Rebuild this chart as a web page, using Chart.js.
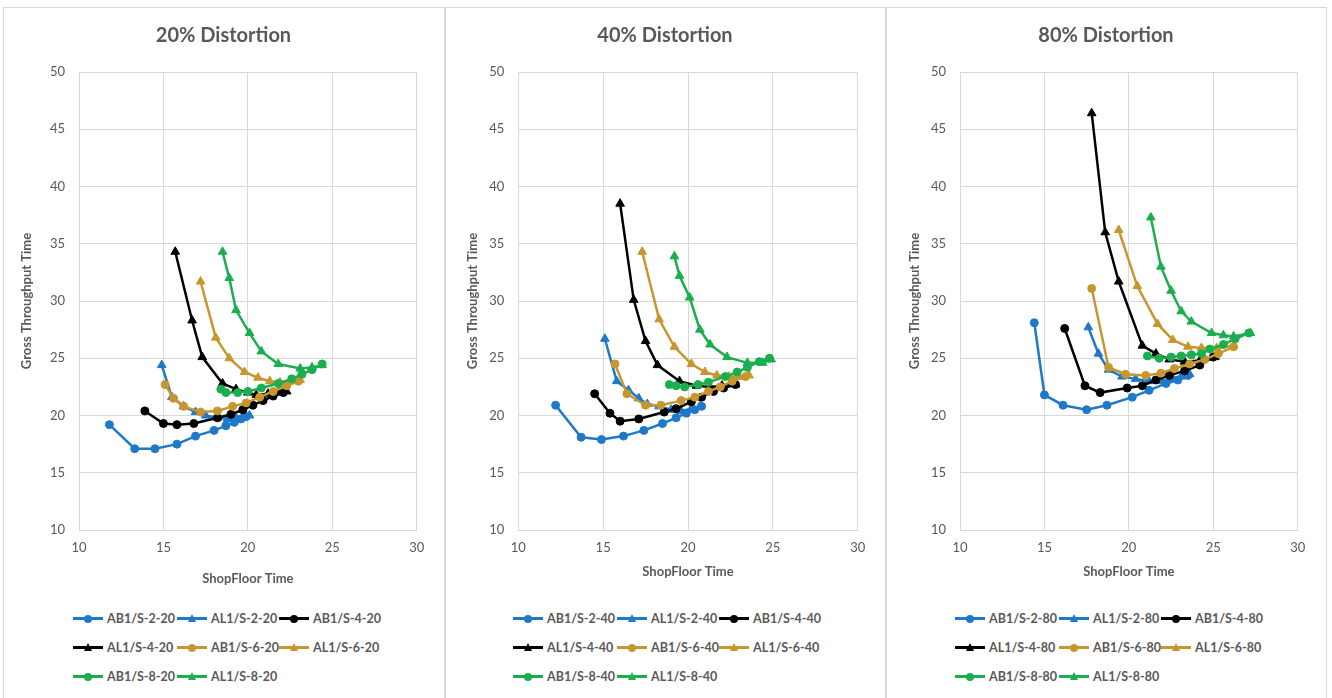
<!DOCTYPE html>
<html lang="en">
<head>
<meta charset="UTF-8" />
<title>Distortion charts</title>
<script src="https://cdn.jsdelivr.net/npm/chart.js"></script>
<style>
  body { margin: 0; background: #fff; width: 1332px; height: 698px; overflow: hidden; position: relative; font-family: Lato, sans-serif; }
  .panel { position: absolute; top: 7px; height: 720px; border: 1px solid #d9d9d9; box-sizing: border-box; }
  canvas { position: absolute; top: 0; }
  .legend { position: absolute; top: 604px; display: grid; grid-template-columns: 104px 102px 112px; }
  .item { display: flex; align-items: center; height: 29px; font-size: 12.5px; font-weight: bold; color: #595959; white-space: nowrap; }
  .mk { position: relative; flex: 0 0 30px; width: 30px; height: 3px; margin-right: 4px; }
  .mk i { position: absolute; left: 11px; }
  .mk i.circle { width: 8px; height: 8px; border-radius: 50%; top: -2.5px; }
  .mk i.triangle { width: 0; height: 0; top: -3.5px; left: 10.5px; border-left: 4.5px solid transparent; border-right: 4.5px solid transparent; border-bottom: 8px solid; background: none !important; }
</style>
</head>
<body>
<div class="panel" style="left:3px;width:442px"></div>
<div class="panel" style="left:445px;width:441px"></div>
<div class="panel" style="left:886px;width:441px"></div>
<canvas id="c20" width="441" height="600" style="left:3px;width:441px;height:600px"></canvas>
<canvas id="c40" width="440" height="600" style="left:445px;width:440px;height:600px"></canvas>
<canvas id="c80" width="440" height="600" style="left:886px;width:440px;height:600px"></canvas>
<div class="legend" id="l20" style="left:73px"></div>
<div class="legend" id="l40" style="left:513px"></div>
<div class="legend" id="l80" style="left:955px"></div>

<script>
  const seriesNames = ['AB1/S-2', 'AL1/S-2', 'AB1/S-4', 'AL1/S-4', 'AB1/S-6', 'AL1/S-6', 'AB1/S-8', 'AL1/S-8'];
  const seriesColors = ['#1f78c8', '#1f78c8', '#000000', '#000000', '#c8962e', '#c8962e', '#1aae4f', '#1aae4f'];
  const seriesMarkers = ['circle', 'triangle', 'circle', 'triangle', 'circle', 'triangle', 'circle', 'triangle'];
  const xMin = 10, xMax = 30, xStep = 5;
  const yMin = 10, yMax = 50, yStep = 5;

  // 20% distortion  [ShopFloor Time, Gross Throughput Time]
  const ab1s2_20 = [[11.8,19.2],[13.3,17.1],[14.5,17.1],[15.8,17.5],[16.9,18.2],[18.0,18.7],[18.7,19.1],[19.2,19.4],[19.6,19.7],[19.9,19.9]];
  const al1s2_20 = [[14.9,24.4],[15.5,21.6],[16.2,20.8],[16.9,20.3],[17.5,20.0],[18.2,19.8],[18.8,19.7],[19.3,19.8],[19.7,19.9],[20.1,20.0]];
  const ab1s4_20 = [[13.9,20.4],[15.0,19.3],[15.8,19.2],[16.8,19.3],[18.2,19.8],[19.0,20.1],[19.7,20.5],[20.3,20.9],[20.9,21.3],[21.5,21.7],[22.1,22.0]];
  const al1s4_20 = [[15.7,34.3],[16.7,28.3],[17.3,25.1],[18.5,22.8],[19.3,22.3],[20.0,22.0],[20.5,21.8],[21.2,21.9],[21.8,22.0],[22.3,22.1]];
  const ab1s6_20 = [[15.1,22.7],[15.6,21.5],[16.2,20.8],[17.2,20.3],[18.2,20.4],[19.1,20.8],[19.9,21.1],[20.7,21.6],[21.5,22.1],[22.3,22.6],[23.0,23.0]];
  const al1s6_20 = [[17.2,31.7],[18.1,26.8],[18.9,25.0],[19.8,23.8],[20.6,23.3],[21.3,23.0],[21.9,22.9],[22.6,23.0],[23.1,23.1]];
  const ab1s8_20 = [[18.4,22.3],[18.7,22.0],[19.4,22.0],[20.0,22.1],[20.8,22.4],[21.8,22.8],[22.6,23.2],[23.2,23.6],[23.8,24.0],[24.4,24.5]];
  const al1s8_20 = [[18.5,34.3],[18.9,32.0],[19.3,29.2],[20.1,27.2],[20.8,25.6],[21.8,24.5],[23.1,24.1],[23.8,24.2],[24.4,24.4]];

  // 40% distortion
  const ab1s2_40 = [[12.2,20.9],[13.7,18.1],[14.9,17.9],[16.2,18.2],[17.4,18.7],[18.5,19.3],[19.3,19.8],[19.9,20.2],[20.4,20.5],[20.8,20.8]];
  const al1s2_40 = [[15.1,26.7],[15.8,23.0],[16.5,22.2],[17.1,21.5],[17.6,21.0],[18.3,20.8],[19.0,20.5],[19.6,20.4],[20.2,20.6],[20.7,20.8]];
  const ab1s4_40 = [[14.5,21.9],[15.4,20.2],[16.0,19.5],[17.1,19.7],[18.6,20.3],[19.3,20.6],[20.2,21.2],[20.8,21.6],[21.5,22.1],[22.1,22.4],[22.8,22.7]];
  const al1s4_40 = [[16.0,38.5],[16.8,30.1],[17.5,26.5],[18.2,24.4],[19.5,23.0],[20.5,22.6],[21.3,22.5],[22.0,22.6],[22.8,22.7]];
  const ab1s6_40 = [[15.7,24.5],[16.4,21.9],[17.5,20.9],[18.4,20.9],[19.6,21.3],[20.4,21.6],[21.2,22.1],[21.9,22.5],[22.6,23.0],[23.4,23.4]];
  const al1s6_40 = [[17.3,34.3],[18.3,28.4],[19.2,26.0],[20.2,24.5],[21.0,23.8],[21.7,23.5],[22.4,23.4],[23.0,23.4],[23.6,23.5]];
  const ab1s8_40 = [[18.9,22.7],[19.3,22.6],[19.8,22.5],[20.6,22.7],[21.2,22.9],[22.2,23.4],[22.9,23.8],[23.5,24.2],[24.2,24.7],[24.8,25.0]];
  const al1s8_40 = [[19.2,33.9],[19.5,32.2],[20.1,30.3],[20.7,27.5],[21.3,26.2],[22.3,25.1],[23.5,24.6],[24.4,24.6],[24.9,24.9]];

  // 80% distortion
  const ab1s2_80 = [[14.4,28.1],[15.0,21.8],[16.1,20.9],[17.5,20.5],[18.7,20.9],[20.2,21.6],[21.2,22.2],[22.2,22.8],[22.9,23.1],[23.5,23.5]];
  const al1s2_80 = [[17.6,27.7],[18.2,25.4],[18.8,24.0],[19.6,23.4],[20.4,23.2],[21.2,23.0],[22.0,23.0],[22.6,23.2],[23.1,23.4],[23.6,23.6]];
  const ab1s4_80 = [[16.2,27.6],[17.4,22.6],[18.3,22.0],[19.9,22.4],[20.8,22.6],[21.6,23.1],[22.4,23.5],[23.3,23.9],[24.2,24.4],[25.0,25.1]];
  const al1s4_80 = [[17.8,46.4],[18.6,36.0],[19.4,31.7],[20.8,26.1],[21.6,25.4],[22.4,24.9],[23.3,24.7],[24.2,24.8],[25.1,25.1]];
  const ab1s6_80 = [[17.8,31.1],[18.8,24.2],[19.8,23.6],[21.0,23.5],[21.9,23.7],[22.7,24.1],[23.6,24.5],[24.5,24.9],[25.3,25.4],[26.2,26.0]];
  const al1s6_80 = [[19.4,36.2],[20.5,31.3],[21.7,28.0],[22.6,26.6],[23.5,26.0],[24.3,25.9],[25.2,25.9],[26.2,26.1]];
  const ab1s8_80 = [[21.1,25.2],[21.8,25.0],[22.5,25.1],[23.1,25.2],[23.7,25.3],[24.3,25.4],[24.8,25.8],[25.6,26.2],[26.3,26.7],[27.1,27.2]];
  const al1s8_80 = [[21.3,37.3],[21.9,33.0],[22.5,30.9],[23.1,29.1],[23.7,28.2],[24.9,27.2],[25.6,27.0],[26.2,26.9],[27.2,27.2]];

  const grey = '#595959';
  const gridGrey = '#d9d9d9';

  function makeChart(id, suffix, series, geo) {
    new Chart(document.getElementById(id), {
      type: 'scatter',
      data: {
        datasets: series.map((pts, i) => ({
          label: seriesNames[i] + '-' + suffix,
          data: pts.map(p => ({ x: p[0], y: p[1] })),
          showLine: true,
          borderColor: seriesColors[i],
          backgroundColor: seriesColors[i],
          borderWidth: 2.5,
          pointStyle: seriesMarkers[i],
          pointRadius: seriesMarkers[i] === 'triangle' ? 5 : 4,
          pointBorderWidth: 1,
          tension: 0,
          order: series.length - 1 - i
        }))
      },
      options: {
        responsive: false,
        animation: false,
        layout: { padding: 0 },
        plugins: {
          legend: { display: false },
          tooltip: { enabled: false },
          title: {
            display: true,
            text: suffix + '% Distortion',
            color: grey,
            font: { family: 'Lato', size: 20, weight: 'bold' },
            padding: { top: 24, bottom: 24 }
          }
        },
        scales: {
          x: {
            type: 'linear', min: xMin, max: xMax,
            ticks: { stepSize: xStep, color: grey, font: { family: 'Lato', size: 13 }, padding: 10 },
            grid: { color: gridGrey, drawTicks: false },
            border: { color: gridGrey },
            title: { display: true, text: 'ShopFloor Time', color: grey, font: { family: 'Lato', size: 13, weight: 'bold' }, padding: { top: 0, bottom: geo.xTitlePad } },
            afterFit: s => { s.height = 70; }
          },
          y: {
            type: 'linear', min: yMin, max: yMax,
            ticks: { stepSize: yStep, color: grey, font: { family: 'Lato', size: 13 }, padding: 14 },
            grid: { color: gridGrey, drawTicks: false },
            border: { color: gridGrey },
            title: { display: true, text: 'Gross Throughput Time', color: grey, font: { family: 'Lato', size: 13, weight: 'bold' }, padding: { top: geo.yTitlePad, bottom: 0 } },
            afterFit: s => { s.width = geo.yW; }
          },
          // empty right-hand spacer so the title stays centred on the whole panel
          spacer: {
            type: 'linear', position: 'right', min: yMin, max: yMax,
            ticks: { display: false },
            grid: { display: false, drawOnChartArea: false },
            border: { display: false },
            afterFit: s => { s.width = geo.padR; }
          }
        }
      }
    });
  }

  function makeLegend(id, suffix) {
    const box = document.getElementById(id);
    seriesNames.forEach((n, i) => {
      const item = document.createElement('div');
      item.className = 'item';
      const mk = document.createElement('span');
      mk.className = 'mk';
      mk.style.background = seriesColors[i];
      const dot = document.createElement('i');
      dot.className = seriesMarkers[i];
      if (seriesMarkers[i] === 'circle') dot.style.background = seriesColors[i];
      else dot.style.borderBottomColor = seriesColors[i];
      mk.appendChild(dot);
      item.appendChild(mk);
      item.appendChild(document.createTextNode(n + '-' + suffix));
      box.appendChild(item);
    });
  }

  makeChart('c20', '20', [ab1s2_20, al1s2_20, ab1s4_20, al1s4_20, ab1s6_20, al1s6_20, ab1s8_20, al1s8_20], { yW: 76, padR: 27.3, yTitlePad: 16, xTitlePad: 13 });
  makeChart('c40', '40', [ab1s2_40, al1s2_40, ab1s4_40, al1s4_40, ab1s6_40, al1s6_40, ab1s8_40, al1s8_40], { yW: 73.3, padR: 27.3, yTitlePad: 20, xTitlePad: 20 });
  makeChart('c80', '80', [ab1s2_80, al1s2_80, ab1s4_80, al1s4_80, ab1s6_80, al1s6_80, ab1s8_80, al1s8_80], { yW: 74, padR: 28.3, yTitlePad: 21, xTitlePad: 20 });
  makeLegend('l20', '20');
  makeLegend('l40', '40');
  makeLegend('l80', '80');
</script>
</body>
</html>
